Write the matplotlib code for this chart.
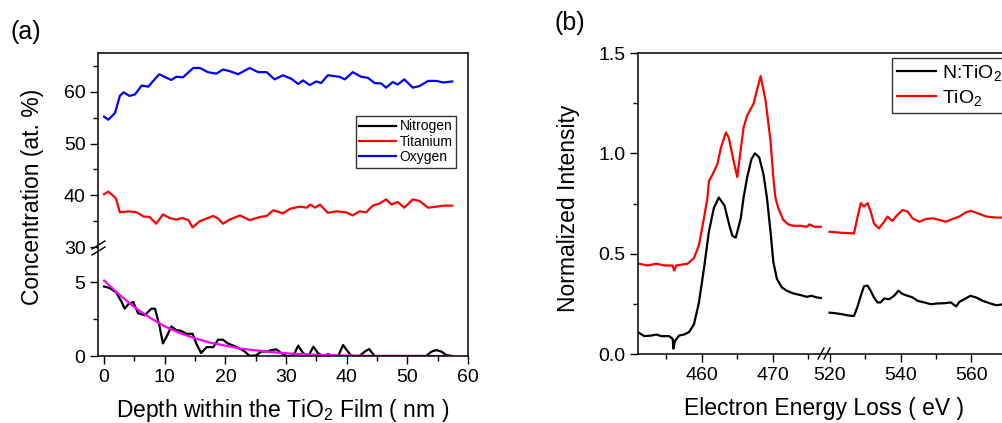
import numpy as np
import matplotlib
matplotlib.use("Agg")
import matplotlib.pyplot as plt
from matplotlib.ticker import FixedLocator

plt.rcParams["font.family"] = ["Liberation Sans", "DejaVu Sans"]
plt.rcParams["mathtext.default"] = "regular"

W, H = 1003, 423

# ---- panel (a): depth profile ----
depth_o = [0, 0.7, 1.8, 2.6, 3.2, 4.2, 5.1, 6.2, 7.3, 8.1, 9.1, 10.3, 11.1, 11.9, 13.0,
           14.7, 15.8, 17.1, 18.5, 19.6, 20.7, 22.1, 24.0, 25.4, 26.8, 28.1, 29.5, 30.9,
           32.0, 32.8, 33.9, 35.0, 35.8, 36.9, 38.8, 39.7, 41.0, 42.4, 43.5, 44.6, 45.7,
           46.5, 47.6, 48.4, 49.5, 50.9, 52.0, 53.4, 54.8, 55.9, 57.4]
oxygen = [55.2, 54.6, 55.9, 59.2, 59.9, 59.2, 59.5, 61.2, 61.0, 62.1, 63.4, 62.7, 62.3, 62.9,
          62.8, 64.6, 64.6, 63.8, 63.5, 64.3, 64.0, 63.4, 64.6, 63.8, 63.8, 62.4, 63.2, 62.5,
          61.5, 62.2, 61.3, 62.0, 61.7, 63.2, 62.9, 62.4, 63.8, 62.9, 62.7, 61.7, 61.6,
          60.8, 61.9, 61.4, 62.4, 60.8, 61.1, 62.1, 62.1, 61.8, 62.0]

depth_ti = [0, 0.7, 1.8, 2.0, 2.6, 4.0, 5.4, 6.5, 7.5, 8.6, 9.7, 10.8, 11.9, 12.9, 13.9,
            14.6, 15.8, 16.9, 18.0, 18.8, 19.6, 20.7, 22.4, 24.0, 25.7, 26.8, 27.9, 29.5,
            30.7, 32.3, 33.4, 34.0, 34.8, 35.6, 36.9, 38.3, 39.9, 41.0, 42.1, 43.2, 44.3,
            45.4, 46.5, 47.4, 48.4, 49.5, 50.9, 52.0, 53.4, 54.8, 55.9, 57.4]
titanium = [40.2, 40.7, 39.6, 39.2, 36.7, 36.9, 36.7, 35.9, 35.8, 34.5, 36.3, 35.6, 35.3,
            35.6, 35.2, 33.8, 35.0, 35.5, 36.0, 35.5, 34.5, 35.3, 36.1, 35.2, 35.8, 36.0,
            37.1, 36.5, 37.4, 37.8, 37.6, 38.2, 37.6, 38.2, 36.6, 36.9, 36.7, 36.1, 36.9,
            36.7, 38.0, 38.4, 39.2, 38.2, 38.7, 37.6, 39.2, 38.9, 37.6, 37.8, 38.0, 38.0]

depth_n = [0, 0.9, 2.0, 2.9, 3.4, 4.0, 4.8, 5.6, 6.7, 7.8, 8.4, 9.1, 9.7, 10.3, 11.1, 11.9,
           12.7, 13.6, 14.6, 15.2, 16.0, 16.9, 18.0, 18.8, 19.6, 20.4, 21.5, 22.4, 23.2,
           24.0, 25.1, 25.9, 26.8, 27.6, 28.4, 29.2, 30.1, 31.2, 32.0, 32.8, 33.7, 34.5,
           35.3, 36.1, 36.9, 37.7, 38.6, 39.4, 40.2, 40.8, 42.1, 43.0, 43.7, 44.6, 46.0,
           48.8, 53.1, 54.0, 54.8, 55.6, 56.4, 57.3]
nitrogen = [4.7, 4.6, 4.3, 3.65, 3.2, 3.5, 3.65, 2.9, 2.75, 3.2, 3.2, 2.1, 0.85, 1.3, 2.0,
            1.75, 1.7, 1.5, 1.5, 0.85, 0.2, 0.6, 0.6, 1.1, 1.1, 0.85, 0.67, 0.5, 0.3, 0.0,
            0.05, 0.3, 0.3, 0.4, 0.45, 0.2, 0.0, 0.0, 0.7, 0.2, 0.0, 0.63, 0.18, 0.0, 0.13,
            0.0, 0.0, 0.74, 0.3, 0.0, 0.0, 0.3, 0.47, 0.0, 0.0, 0.0, 0.0, 0.3, 0.4, 0.3,
            0.07, 0.0]

depth_fit = [0, 2.5, 5, 7.5, 10, 12.5, 15, 17.5, 20, 22.5, 25, 27.5, 30, 35, 40, 45, 50, 57.5]
n_fit = [5.1, 4.15, 3.3, 2.6, 2.0, 1.55, 1.2, 0.9, 0.7, 0.5, 0.38, 0.27, 0.18, 0.08, 0.03,
         0.0, 0.0, 0.0]

# ---- panel (b): EELS spectra (two energy windows) ----
e_lo_n = [451.1, 451.9, 452.9, 453.6, 454.3, 455.4, 455.9, 456.0, 456.2, 456.8, 457.5, 458.2,
          458.9, 459.6, 460.3, 461.0, 461.7, 462.4, 463.2, 463.9, 464.3, 464.8, 465.5, 465.9,
          466.4, 467.0, 467.5, 468.1, 468.7, 469.2, 469.7, 470.1, 470.6, 471.3, 472.0, 472.9,
          473.9, 474.8, 475.5, 476.2, 476.8]
i_lo_n = [0.106, 0.089, 0.092, 0.097, 0.089, 0.089, 0.075, 0.027, 0.064, 0.092, 0.097, 0.109,
          0.148, 0.257, 0.424, 0.609, 0.727, 0.78, 0.74, 0.64, 0.59, 0.58, 0.676, 0.78,
          0.88, 0.97, 1.0, 0.98, 0.897, 0.777, 0.609, 0.458, 0.374, 0.332, 0.315, 0.302,
          0.294, 0.285, 0.290, 0.282, 0.279]
e_hi_n = [520.0, 521.7, 523.6, 525.0, 526.4, 526.9, 527.8, 528.8, 529.7, 530.7, 531.6, 532.5,
          533.5, 534.4, 535.4, 536.8, 538.2, 539.4, 540.6, 542.0, 543.4, 544.8, 546.7, 548.6,
          550.5, 552.4, 554.2, 555.7, 556.6, 558.0, 559.7, 561.3, 563.2, 565.1, 567.0, 569.3,
          572.0]
i_hi_n = [0.206, 0.203, 0.198, 0.193, 0.190, 0.190, 0.232, 0.290, 0.337, 0.341, 0.315, 0.282,
          0.257, 0.257, 0.277, 0.273, 0.290, 0.315, 0.299, 0.290, 0.282, 0.265, 0.257, 0.248,
          0.252, 0.253, 0.257, 0.237, 0.260, 0.273, 0.290, 0.282, 0.265, 0.253, 0.243, 0.248,
          0.245]

e_lo_t = [451.1, 452.4, 453.6, 454.7, 455.9, 456.1, 456.4, 457.1, 458.0, 458.9, 459.6, 460.3,
          460.8, 461.0, 461.5, 462.2, 462.7, 463.4, 463.8, 464.5, 465.0, 465.9, 466.4, 467.3,
          468.3, 469.0, 469.7, 470.1, 470.4, 470.8, 471.5, 472.2, 472.9, 473.9, 474.8, 475.2,
          475.9, 476.8]
i_lo_t = [0.450, 0.441, 0.450, 0.441, 0.441, 0.416, 0.441, 0.445, 0.450, 0.478, 0.542, 0.676,
          0.777, 0.86, 0.894, 0.946, 1.028, 1.104, 1.079, 0.961, 0.882, 1.129, 1.188, 1.247,
          1.385, 1.264, 1.062, 0.877, 0.777, 0.727, 0.668, 0.646, 0.639, 0.639, 0.634, 0.646,
          0.634, 0.634]
e_hi_t = [520.0, 523.6, 526.9, 527.8, 528.8, 529.7, 530.7, 531.6, 532.5, 533.9, 535.4, 536.3,
          537.7, 538.7, 540.6, 542.0, 543.4, 545.3, 547.2, 549.1, 551.0, 552.8, 554.7, 556.6,
          558.5, 559.9, 561.8, 564.2, 567.0, 569.3, 572.0]
i_hi_t = [0.609, 0.604, 0.601, 0.676, 0.752, 0.735, 0.752, 0.710, 0.651, 0.626, 0.659, 0.685,
          0.663, 0.685, 0.718, 0.710, 0.676, 0.659, 0.673, 0.676, 0.668, 0.659, 0.673, 0.685,
          0.707, 0.713, 0.701, 0.685, 0.680, 0.680, 0.678]


def broken_scale(breaks_val, breaks_px):
    fwd = lambda v: np.interp(v, breaks_val, breaks_px)
    inv = lambda p: np.interp(p, breaks_px, breaks_val)
    return fwd, inv


def style_axis(ax):
    for s in ax.spines.values():
        s.set_linewidth(1.1)
    ax.tick_params(which="both", direction="out", width=1.0, labelsize=14,
                   top=False, right=False)
    ax.tick_params(which="major", length=5.5)
    ax.tick_params(which="minor", length=3.5)


fig = plt.figure(figsize=(W / 100, H / 100), dpi=100)

# ---------- (a) ----------
axa = fig.add_axes([98 / W, (H - 356) / H, 370 / W, 303 / H])
fa, ia = broken_scale([-100, 0, 7.2, 30, 67.5, 200],
                      [-1480, 0, 106.5, 109, 303, 988])
axa.set_yscale("function", functions=(fa, ia))
axa.plot(depth_n, nitrogen, color="black", lw=1.6, label="Nitrogen")
axa.plot(depth_ti, titanium, color="red", lw=1.6, label="Titanium")
axa.plot(depth_o, oxygen, color="blue", lw=1.6, label="Oxygen")
axa.plot(depth_fit, n_fit, color="magenta", lw=1.6)
axa.set_xlim(-1, 60)
axa.set_ylim(0, 67.5)
axa.yaxis.set_major_locator(FixedLocator([0, 5, 30, 40, 50, 60]))
axa.yaxis.set_minor_locator(FixedLocator([2.5, 35, 45, 55, 65]))
axa.xaxis.set_major_locator(FixedLocator([0, 10, 20, 30, 40, 50, 60]))
axa.xaxis.set_minor_locator(FixedLocator([5, 15, 25, 35, 45, 55]))
style_axis(axa)
axa.set_xlabel("Depth within the TiO$_2$ Film ( nm )", fontsize=16.5)
axa.set_ylabel("Concentration (at. %)", fontsize=16.5)
axa.xaxis.set_label_coords(283 / W, 1 - 397 / H, transform=fig.transFigure)
axa.yaxis.set_label_coords(44 / W, 1 - 197 / H, transform=fig.transFigure)
leg = axa.legend(loc="upper left", bbox_to_anchor=(356 / W, 1 - 116 / H),
                 bbox_transform=fig.transFigure, fontsize=10, frameon=True,
                 fancybox=False, edgecolor="black", handlelength=2.6,
                 borderpad=0.25, labelspacing=0.1, handletextpad=0.3,
                 borderaxespad=0)
leg.get_frame().set_linewidth(1.0)
# break marks on the y axis
for dy in (-3, 3):
    fig.add_artist(plt.Line2D([92 / W, 105 / W],
                              [(H - 252 - dy) / H, (H - 244 - dy) / H],
                              color="black", lw=1.0))

# ---------- (b) ----------
axb = fig.add_axes([638 / W, (H - 354) / H, 376 / W, 301 / H])
fb, ib = broken_scale([400, 451, 477.5, 519.5, 572, 650],
                      [-362, 0, 188, 190, 376.4, 653])
axb.set_xscale("function", functions=(fb, ib))
axb.plot(e_lo_n, i_lo_n, color="black", lw=1.6, label="N:TiO$_2$")
axb.plot(e_hi_n, i_hi_n, color="black", lw=1.6)
axb.plot(e_lo_t, i_lo_t, color="red", lw=1.6, label="TiO$_2$")
axb.plot(e_hi_t, i_hi_t, color="red", lw=1.6)
axb.set_xlim(451, 572)
axb.set_ylim(0, 1.5)
axb.xaxis.set_major_locator(FixedLocator([460, 470, 520, 540, 560]))
axb.xaxis.set_minor_locator(FixedLocator([455, 465, 475, 530, 550, 570]))
axb.yaxis.set_major_locator(FixedLocator([0.0, 0.5, 1.0, 1.5]))
axb.yaxis.set_minor_locator(FixedLocator([0.25, 0.75, 1.25]))
axb.yaxis.set_major_formatter(plt.FuncFormatter(lambda v, p: f"{v:.1f}"))
style_axis(axb)
axb.set_xlabel("Electron Energy Loss ( eV )", fontsize=16.5)
axb.set_ylabel("Normalized Intensity", fontsize=16.5)
axb.xaxis.set_label_coords(824 / W, 1 - 397 / H, transform=fig.transFigure)
axb.yaxis.set_label_coords(580 / W, 1 - 208 / H, transform=fig.transFigure)
legb = axb.legend(loc="upper left", bbox_to_anchor=(892 / W, 1 - 58 / H),
                  bbox_transform=fig.transFigure, fontsize=14, frameon=True,
                  fancybox=False, edgecolor="black", handlelength=2.0,
                  borderpad=0.25, labelspacing=0.25, handletextpad=0.3,
                  borderaxespad=0)
legb.get_frame().set_linewidth(1.0)
for dx in (-3, 3):
    fig.add_artist(plt.Line2D([(821 + dx) / W, (827 + dx) / W],
                              [(H - 359) / H, (H - 348) / H],
                              color="black", lw=1.0))

fig.text(26 / W, 1 - 32 / H, "(a)", fontsize=18, ha="center", va="center")
fig.text(570 / W, 1 - 23 / H, "(b)", fontsize=18, ha="center", va="center")

fig.savefig("out.png", dpi=100)
